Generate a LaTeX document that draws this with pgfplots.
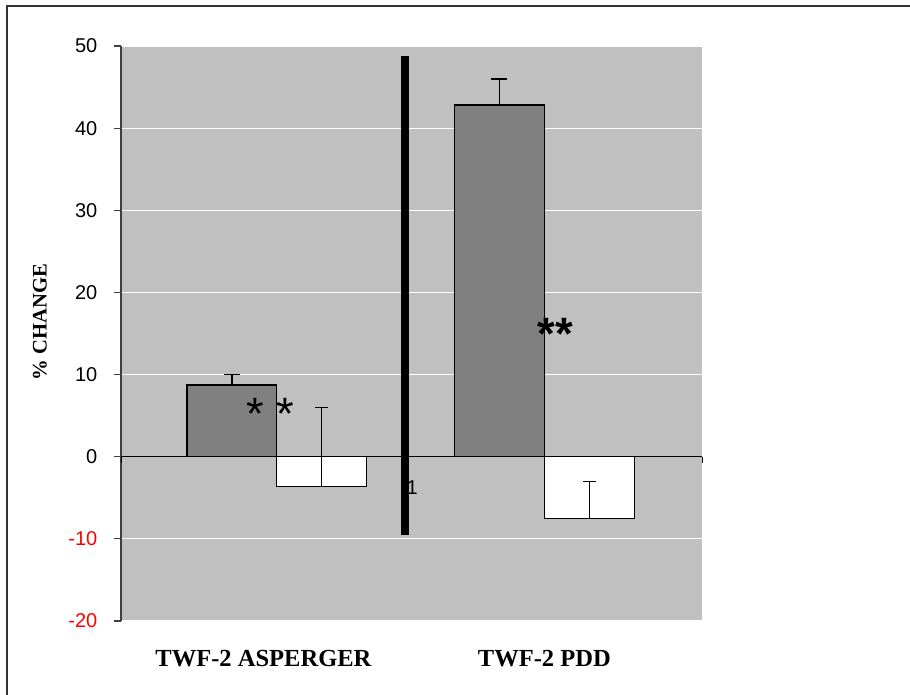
\documentclass[border=0pt]{standalone}
\usepackage{pgfplots}
\pgfplotsset{compat=1.18}
\usepackage{fontspec}
\setmainfont{Liberation Sans}
\newfontfamily\timesfont{Liberation Serif}
\definecolor{plotbg}{RGB}{192,192,192}
\definecolor{bardark}{RGB}{128,128,128}
\definecolor{framegray}{RGB}{51,51,51}

\begin{document}
\begin{tikzpicture}[x=0.75pt,y=0.75pt]
\useasboundingbox (0,0) rectangle (910,695);
% outer frame (top and left edges)
\draw[framegray, line width=1.1pt] (7,0) -- (7,689) -- (910,689);
\begin{axis}[
  at={(90.75pt,55.5pt)}, anchor=south west,
  scale only axis, width=435.75pt, height=431.25pt,
  xmin=-0.582, xmax=1.589, ymin=-20, ymax=50,
  axis background/.style={fill=plotbg},
  axis x line*=bottom, axis y line*=left,
  x axis line style={draw=none},
  y axis line style={draw=black!75, line width=0.8pt, -},
  xtick={0,1}, xticklabels={TWF-2 ASPERGER\hspace*{20pt}, TWF-2 PDD},
  major x tick style={draw=none},
  xticklabel style={font=\timesfont\bfseries\fontsize{18.4}{20}\selectfont, anchor=center, yshift=-23pt},
  ytick={-20,-10,...,50},
  yticklabels={\textcolor{red}{-20},\textcolor{red}{-10},0,10,20,30,40,50},
  yticklabel style={font=\fontsize{15}{17}\selectfont, xshift=-9pt},
  tick align=outside, major tick length=5.25pt,
  ytick style={draw=black!75, line width=0.8pt},
  ymajorgrids, grid style={white, line width=0.75pt},
  ylabel={\% CHANGE},
  every axis y label/.style={at={(rel axis cs:0,0.5)}, xshift=-60.75pt, yshift=8.6pt,
    rotate=90, anchor=center, font=\timesfont\bfseries\fontsize{15.5}{17}\selectfont},
  ybar, bar width=0.336,
  clip=false,
]
% group means with upper error bars
\addplot[fill=bardark, draw=black, line width=1.1pt, bar shift=-0.168,
  error bars/.cd, y dir=plus, y explicit,
  error bar style={line width=1.1pt, black},
  error mark options={rotate=90, mark size=6pt, line width=1.1pt, black}]
  coordinates {(0,8.75) +- (0,1.25) (1,42.8) +- (0,3.2)};
\addplot[fill=white, draw=black, line width=1.1pt, bar shift=0.168,
  error bars/.cd, y dir=plus, y explicit,
  error bar style={line width=1.1pt, black},
  error mark options={rotate=90, mark size=5pt, line width=1.1pt, black}]
  coordinates {(0,-3.6) +- (0,9.6) (1,-7.55) +- (0,4.55)};
% zero line with end ticks
\addplot[sharp plot, black, line width=0.75pt, forget plot] coordinates {(-0.582,0) (1.589,0)};
\draw[black, line width=0.75pt] (axis cs:1.589,0) -- ++(0pt,-5pt);
\draw[black, line width=0.75pt] (axis cs:-0.582,0) -- ++(0pt,-5pt);
% separator
\addplot[sharp plot, black, line width=6pt, forget plot] coordinates {(0.479,-9.5) (0.479,48.8)};
\node[font=\fontsize{15}{17}\selectfont] at (axis cs:0.506,-3.8) {1};
\node[font=\fontsize{34}{36}\selectfont] at (axis cs:-0.025,5.2) {* *};
\node[font=\bfseries\fontsize{34}{36}\selectfont] at (axis cs:1.04,15.0) {**};
\end{axis}
\end{tikzpicture}
\end{document}
